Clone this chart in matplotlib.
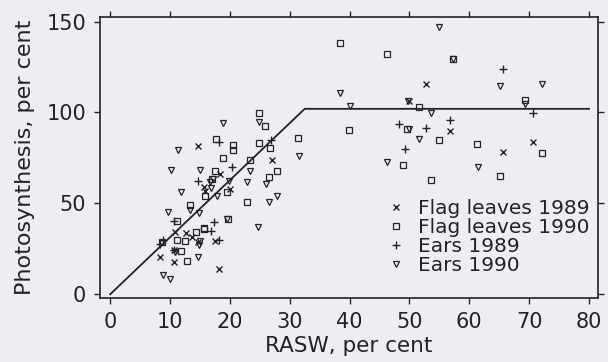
import matplotlib
matplotlib.use('Agg')
import matplotlib.pyplot as plt

# Flag leaves 1989 (x)
fl89_x = [14.7, 27.1, 18.3, 20.0, 15.6, 15.8, 10.8, 12.6, 13.6, 14.7, 17.5,
          8.4, 10.6, 10.7, 18.1, 52.7, 56.8, 65.7, 70.7, 49.9]
fl89_y = [81.6, 73.9, 66.1, 57.9, 58.8, 57.0, 34.3, 33.9, 31.5, 28.8, 29.1,
          20.6, 17.9, 24.2, 13.8, 115.5, 89.6, 78.0, 84.0, 106.5]

# Flag leaves 1990 (squares)
fl90_x = [24.8, 25.9, 17.6, 20.6, 20.6, 24.8, 26.7, 31.4, 18.9, 23.4, 17.5,
          27.9, 26.6, 17.0, 19.6, 15.8, 22.8, 13.3, 11.1, 19.7, 15.6, 14.4,
          15.6, 11.1, 12.5, 8.6, 11.9, 12.9,
          38.4, 46.2, 57.2, 51.6, 69.3, 39.9, 49.6, 55.0, 61.3, 72.2, 49.0,
          53.6, 65.1]
fl90_y = [99.5, 92.5, 85.6, 82.0, 79.5, 83.0, 80.7, 85.8, 74.7, 73.8, 67.9,
          67.6, 64.3, 63.5, 56.1, 53.9, 51.0, 49.2, 40.1, 41.5, 36.4, 34.3,
          35.7, 29.7, 29.3, 28.8, 23.7, 18.2,
          138.0, 132.2, 129.3, 102.9, 107.1, 90.3, 91.0, 84.9, 82.9, 77.6, 71.0,
          62.8, 65.2]

# Ears 1989 (+)
ea89_x = [18.2, 26.9, 20.3, 14.7, 10.6, 17.4, 16.9, 18.2, 8.9, 8.3, 10.6,
          65.7, 70.7, 48.3, 52.7, 56.8, 49.3]
ea89_y = [83.8, 84.9, 69.8, 62.3, 40.1, 39.9, 35.0, 29.7, 29.7, 27.9, 24.2,
          123.9, 99.8, 93.4, 91.6, 95.6, 79.8]

# Ears 1990 (triangles)
ea90_x = [18.9, 24.9, 11.3, 10.1, 15.0, 31.5, 23.4, 22.9, 26.0, 19.9, 16.7,
          17.2, 16.9, 11.9, 17.8, 27.9, 26.5, 9.6, 13.3, 14.9, 19.6, 24.7,
          15.0, 14.6, 14.9, 8.9, 10.0, 10.8,
          55.0, 57.2, 65.1, 72.2, 38.4, 40.0, 49.7, 53.6, 69.3, 50.0, 51.6,
          46.2, 61.4]
ea90_y = [94.4, 94.7, 79.4, 68.2, 68.5, 75.8, 68.0, 61.8, 60.7, 62.5, 61.6,
          63.4, 58.3, 56.5, 54.3, 53.9, 50.6, 45.4, 46.1, 44.6, 41.2, 37.0,
          29.3, 20.5, 27.0, 10.6, 8.4, 23.0,
          147.2, 129.3, 114.4, 115.8, 110.8, 103.5, 106.5, 99.8, 104.4, 91.1, 85.2,
          72.5, 69.8]

# broken-stick fit
fit_x = [0, 32.5, 80]
fit_y = [0, 102, 102]

labels = ['Flag leaves 1989', 'Flag leaves 1990', 'Ears 1989', 'Ears 1990']

ink = '#232323'
bg = '#eceef3'

plt.rcParams['font.family'] = ['DejaVu Sans']

fig = plt.figure(figsize=(6.08, 3.62), dpi=100, facecolor=bg)
ax = fig.add_axes([0.1645, 0.177, 0.819, 0.776])
ax.set_facecolor(bg)

ax.plot(fit_x, fit_y, color=ink, lw=1.3, zorder=1)
ax.plot(fl89_x, fl89_y, ls='none', marker='x', ms=4.2, mew=1.0, color=ink, label=labels[0])
ax.plot(fl90_x, fl90_y, ls='none', marker='s', ms=4.3, mew=0.9, mfc='none', mec=ink, label=labels[1])
ax.plot(ea89_x, ea89_y, ls='none', marker='+', ms=5.5, mew=1.0, color=ink, label=labels[2])
ax.plot(ea90_x, ea90_y, ls='none', marker='v', ms=4.8, mew=0.9, mfc='none', mec=ink, label=labels[3])

ax.set_xlim(-1.7, 81.5)
ax.set_ylim(-2, 152.5)
ax.set_xticks(range(0, 81, 10))
ax.set_yticks([0, 50, 100, 150])

for s in ax.spines.values():
    s.set_color(ink)
    s.set_linewidth(1.2)

ax.tick_params(direction='out', length=4, width=1, color=ink, labelcolor=ink,
               labelsize=15, top=True, right=True)
ax.tick_params(axis='x', pad=6)
ax.tick_params(axis='y', pad=6)

ax.set_xlabel('RASW, per cent', fontsize=15.5, color=ink, labelpad=3)
ax.set_ylabel('Photosynthesis, per cent', fontsize=16, color=ink, labelpad=8)

leg = ax.legend(loc='lower right', bbox_to_anchor=(1.008, 0.04), frameon=False,
                fontsize=14.5, handlelength=0.8, handletextpad=0.7,
                labelspacing=0.0, borderpad=0.1)
for t in leg.get_texts():
    t.set_color(ink)

fig.savefig('out.png', dpi=100, facecolor=bg)
